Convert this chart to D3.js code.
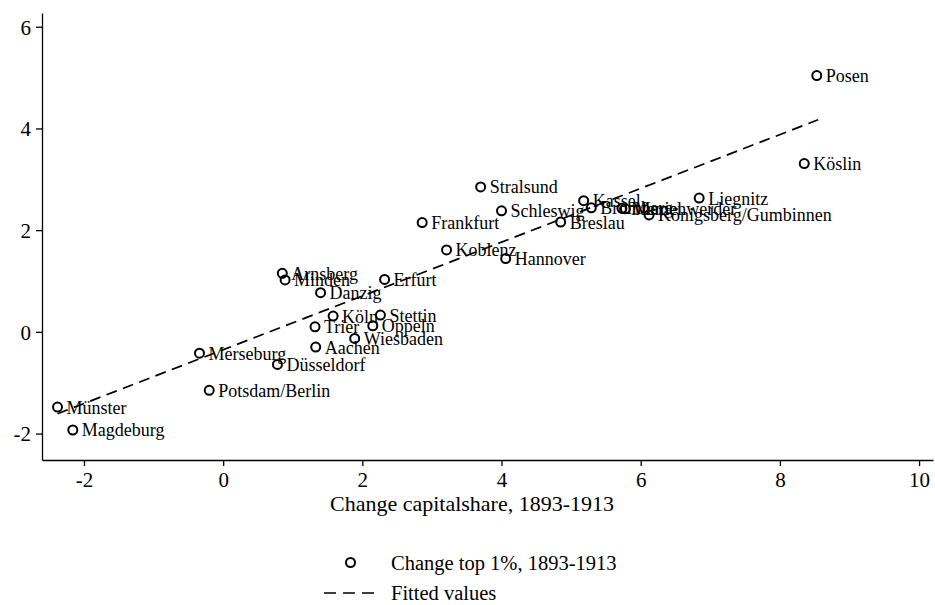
<!DOCTYPE html>
<html>
<head>
<meta charset="utf-8">
<script src="https://cdn.jsdelivr.net/npm/d3@7"></script>
<style>
  body { margin: 0; background: #fff; }
  svg { display: block; font-family: "Liberation Serif", "Times New Roman", serif; }
</style>
</head>
<body>
<svg id="chart" width="935" height="605"></svg>
<script>
// region names with change in capital share and change in top 1% share, 1893-1913
const regions = ["Münster", "Magdeburg", "Potsdam/Berlin", "Merseburg", "Düsseldorf", "Aachen",
  "Trier", "Köln", "Stettin", "Oppeln", "Wiesbaden", "Danzig", "Arnsberg", "Minden", "Erfurt",
  "Koblenz", "Hannover", "Frankfurt", "Stralsund", "Schleswig", "Breslau", "Kassel", "Bromberg",
  "Memel", "Marienwerder", "Königsberg/Gumbinnen", "Liegnitz", "Köslin", "Posen"];
const capitalShare = [-2.38, -2.16, -0.20, -0.34, 0.78, 1.33,
  1.32, 1.58, 2.26, 2.15, 1.89, 1.40, 0.85, 0.89, 2.32,
  3.21, 4.06, 2.86, 3.70, 4.00, 4.85, 5.18, 5.29,
  5.73, 5.78, 6.12, 6.84, 8.35, 8.53];
const top1 = [-1.48, -1.93, -1.15, -0.42, -0.64, -0.30,
  0.10, 0.31, 0.33, 0.12, -0.13, 0.77, 1.15, 1.02, 1.03,
  1.61, 1.44, 2.15, 2.85, 2.38, 2.16, 2.58, 2.44,
  2.43, 2.42, 2.30, 2.63, 3.31, 5.04];

// fitted line end points
const fitX = [-2.38, 8.55];
const fitY = [-1.61, 4.17];

const xTicks = [-2, 0, 2, 4, 6, 8, 10];
const yTicks = [-2, 0, 2, 4, 6];

const svg = d3.select("#chart");
const plotLeft = 42, plotRight = 933, plotTop = 13, plotBottom = 460;

const x = d3.scaleLinear().domain([-2.603, 10.2]).range([plotLeft, plotRight]);
const y = d3.scaleLinear().domain([-2.52, 6.27]).range([plotBottom, plotTop]);

// axes (plain hyphen for negatives, like the original)
const fmt = d => String(d);
const xAxis = svg.append("g").attr("transform", `translate(0,${plotBottom})`)
  .call(d3.axisBottom(x).tickValues(xTicks).tickFormat(fmt).tickSize(6).tickPadding(6).tickSizeOuter(0));
const yAxis = svg.append("g").attr("transform", `translate(${plotLeft},0)`)
  .call(d3.axisLeft(y).tickValues(yTicks).tickFormat(fmt).tickSize(6).tickPadding(5).tickSizeOuter(0));

[xAxis, yAxis].forEach(g => {
  g.select(".domain").attr("stroke", "#000").attr("stroke-width", 1.3);
  g.selectAll(".tick line").attr("stroke", "#000").attr("stroke-width", 1.3);
  g.selectAll(".tick text").attr("fill", "#000")
    .style("font-family", "Liberation Serif").style("font-size", "21px");
});
yAxis.selectAll(".tick text").attr("dy", "0.35em");

svg.append("text")
  .attr("x", 472).attr("y", 511)
  .attr("text-anchor", "middle")
  .style("font-size", "22px")
  .text("Change capitalshare, 1893-1913");

// fitted values
const line = d3.line().x(d => x(d[0])).y(d => y(d[1]));
svg.append("path")
  .datum(d3.zip(fitX, fitY))
  .attr("d", line)
  .attr("fill", "none")
  .attr("stroke", "#000")
  .attr("stroke-width", 1.7)
  .attr("stroke-dasharray", "11,6.5");

// points
const pts = d3.zip(regions, capitalShare, top1);
svg.append("g").selectAll("circle")
  .data(pts).join("circle")
  .attr("cx", d => x(d[1])).attr("cy", d => y(d[2]))
  .attr("r", 4.5)
  .attr("fill", "none")
  .attr("stroke", "#000")
  .attr("stroke-width", 2);

svg.append("g").selectAll("text")
  .data(pts).join("text")
  .attr("x", d => x(d[1]) + 9).attr("y", d => y(d[2]) + 6.5)
  .style("font-size", "18px")
  .text(d => d[0]);

// legend
const legend = svg.append("g");
legend.append("circle")
  .attr("cx", 350.5).attr("cy", 562.5).attr("r", 4.5)
  .attr("fill", "none").attr("stroke", "#000").attr("stroke-width", 2);
legend.append("line")
  .attr("x1", 324).attr("x2", 376).attr("y1", 593).attr("y2", 593)
  .attr("stroke", "#000").attr("stroke-width", 1.7).attr("stroke-dasharray", "12,7");
legend.append("text").attr("x", 391).attr("y", 570)
  .style("font-size", "20.5px").text("Change top 1%, 1893-1913");
legend.append("text").attr("x", 391).attr("y", 600)
  .style("font-size", "20.5px").text("Fitted values");
</script>
</body>
</html>
